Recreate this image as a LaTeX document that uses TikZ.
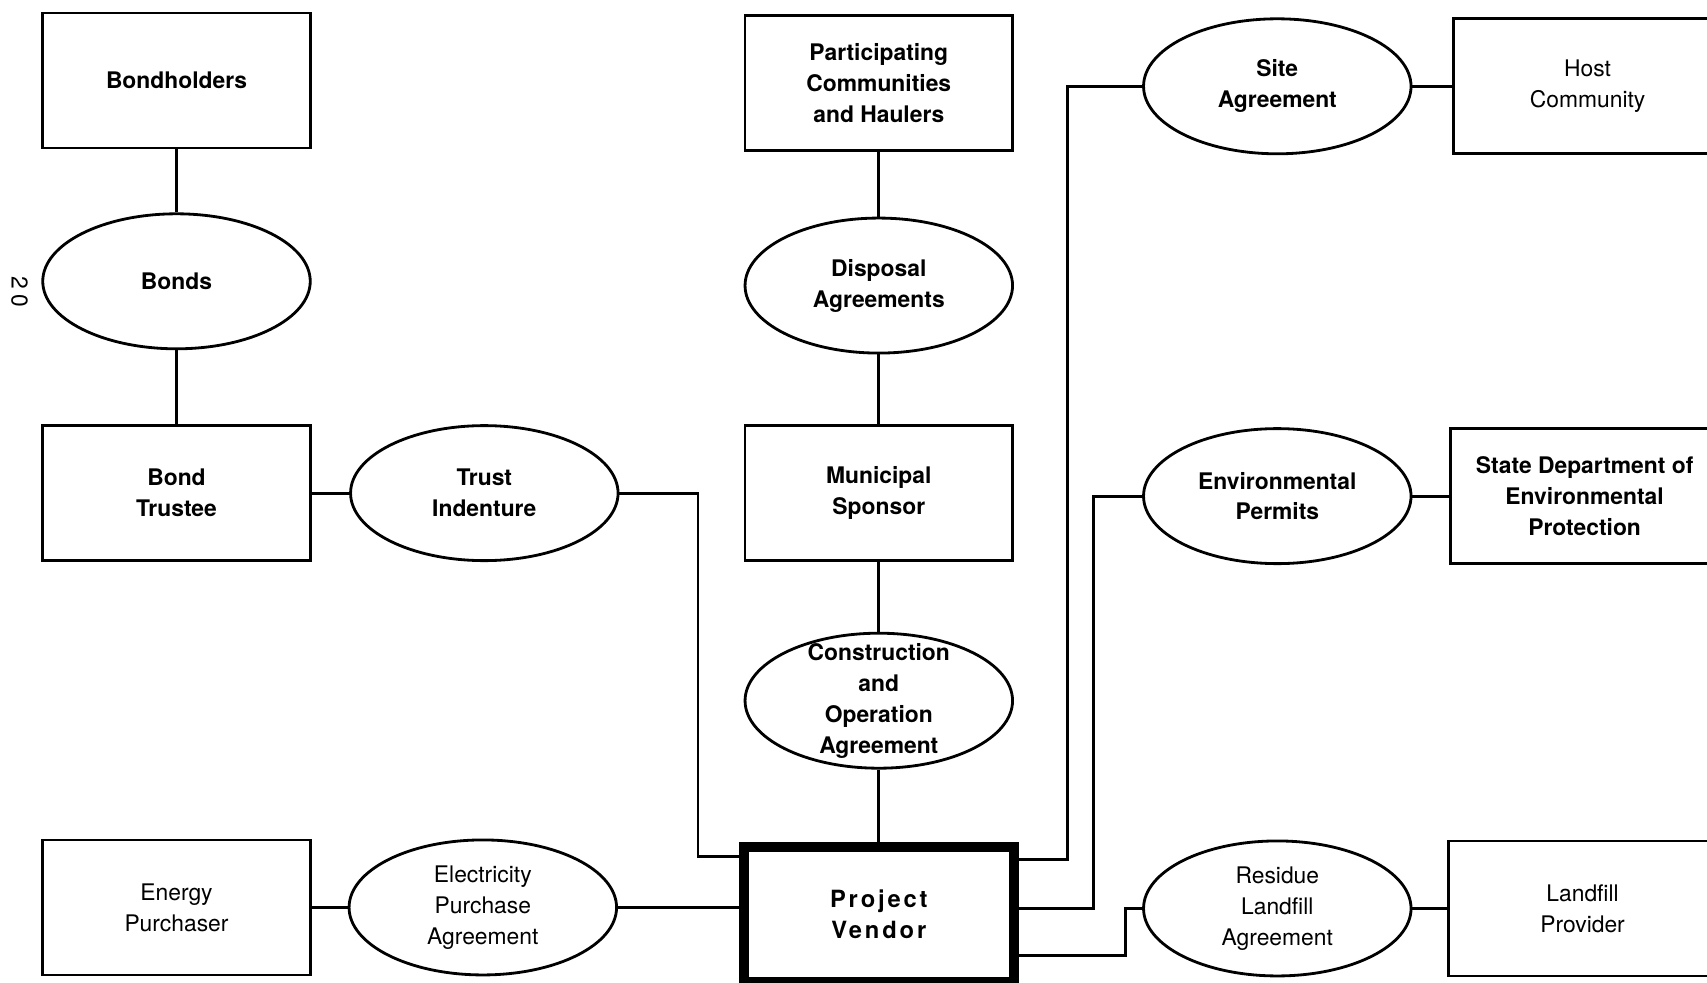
\documentclass[tikz,border=0pt]{standalone}
\usepackage{fontspec}
\setmainfont{TeX Gyre Heros}
\newfontfamily\vendorfont[LetterSpace=12]{TeX Gyre Heros}
\newfontfamily\pagefont[LetterSpace=25]{TeX Gyre Heros}
\usetikzlibrary{positioning}
\usetikzlibrary{shapes.geometric}
\tikzstyle{party} = [draw, rectangle, line width=1.6pt, minimum width=5.35cm, minimum height=2.7cm, align=center, font=\fontsize{13}{17.6}\selectfont\bfseries]
\tikzstyle{deal} = [draw, ellipse, line width=1.6pt, minimum width=5.35cm, minimum height=2.7cm, inner sep=0pt, align=center, font=\fontsize{13}{17.6}\selectfont\bfseries]
\tikzstyle{vendor} = [draw, rectangle, line width=5.5pt, minimum width=5.4cm, minimum height=2.7cm, align=center, font=\fontsize{13.5}{17.6}\vendorfont\bfseries]
\tikzstyle{plain} = [font=\fontsize{13}{17.6}\selectfont]
\tikzstyle{turn} = [coordinate]

\begin{document}
\begin{tikzpicture}[line width=1.6pt]
    \useasboundingbox (0,0) rectangle (34.14,-19.66);
    \node [party] (bondholders) at (3.53,-1.61) {Bondholders};
    \node [deal, below = 1.26cm of bondholders] (bonds) {Bonds};
    \node [party, below = 1.48cm of bonds] (trustee) {Bond\\Trustee};
    \node [deal, right = 0.75cm of trustee] (indenture) {Trust\\Indenture};
    \node [party, plain, below = 5.53cm of trustee] (energy) {Energy\\Purchaser};
    \node [deal, plain, right = 0.72cm of energy] (electricity) {Electricity\\Purchase\\Agreement};
    \node [vendor, right = 2.42cm of electricity, yshift=-0.14cm] (vendor) {Project\\Vendor};
    \node [deal, inner ysep=-0.2cm, above = 1.45cm of vendor] (construction) {Construction\\and\\Operation\\Agreement};
    \node [party, above = 1.39cm of construction] (sponsor) {Municipal\\Sponsor};
    \node [deal, above = 1.4cm of sponsor] (disposal) {Disposal\\Agreements};
    \node [party, above = 1.3cm of disposal] (communities) {Participating\\Communities\\and Haulers};
    \node [deal, plain, right = 2.47cm of vendor, yshift=0.12cm] (residue) {Residue\\Landfill\\Agreement};
    \node [deal, above = 5.49cm of residue] (permits) {Environmental\\Permits};
    \node [deal, above = 5.44cm of permits] (site) {Site\\Agreement};
    \node [party, plain, right = 0.8cm of site] (host) {Host\\Community};
    \node [party, right = 0.74cm of permits] (department) {State Department of\\Environmental\\Protection};
    \node [party, plain, right = 0.7cm of residue] (landfill) {Landfill\\Provider};
    \node [rotate=-90, font=\fontsize{13}{15}\pagefont] (pagenumber) at (0.39,-5.84) {20};

    \coordinate [turn, right = 1.57cm of indenture.east] (indentureturn);
    \coordinate [turn, left = 1.5cm of site.west] (siteturn);
    \coordinate [turn, left = 0.98cm of permits.west] (permitsturn);
    \coordinate [turn, left = 0.33cm of residue.west] (residueturn);

    \draw (bondholders) -- (bonds);
    \draw (bonds) -- (trustee);
    \draw (trustee) -- (indenture);
    \draw (indenture) -- (indentureturn) |- ([yshift=-0.29cm]vendor.north west);
    \draw (energy) -- (electricity);
    \draw (electricity) -- (electricity -| vendor.west);
    \draw (communities) -- (disposal);
    \draw (disposal) -- (sponsor);
    \draw (sponsor) -- (construction);
    \draw (construction) -- (vendor);
    \draw (site) -- (siteturn) |- ([yshift=-0.34cm]vendor.north east);
    \draw (permits) -- (permitsturn) |- ([yshift=0.12cm]vendor.east);
    \draw (residue) -- (residueturn) |- ([yshift=-0.82cm]vendor.east);
    \draw (site) -- (host);
    \draw (permits) -- (department);
    \draw (residue) -- (landfill);
\end{tikzpicture}
\end{document}
